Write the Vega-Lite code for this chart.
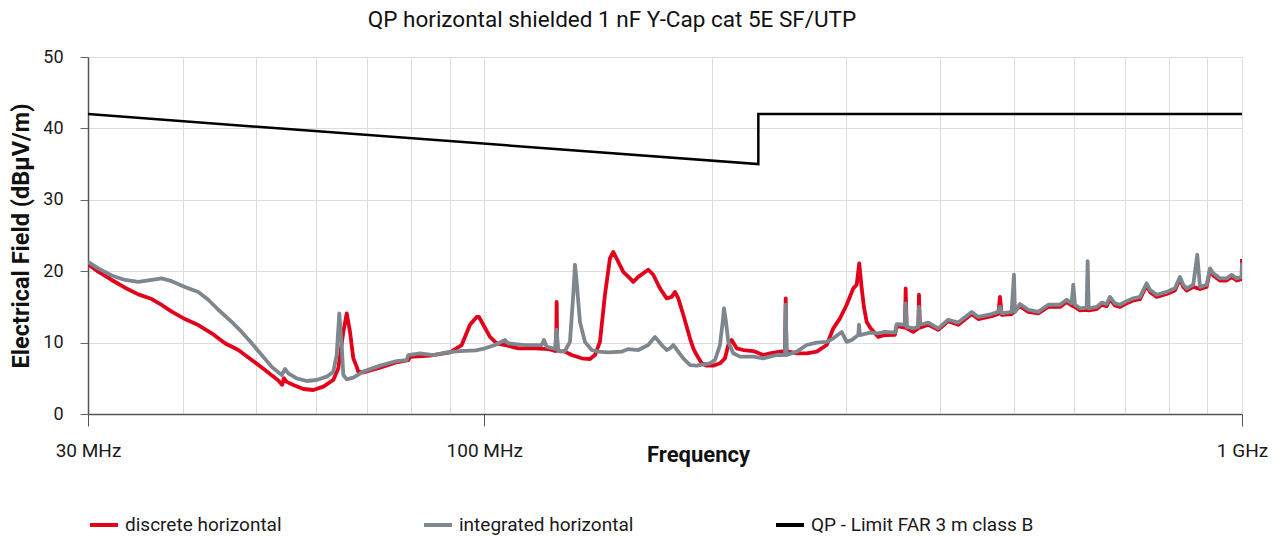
{
  "$schema": "https://vega.github.io/schema/vega-lite/v6.json",
  "width": 1154,
  "height": 357,
  "autosize": "none",
  "padding": {"left": 88, "top": 57, "right": 40, "bottom": 123},
  "background": "white",
  "config": {"font": "Roboto", "view": {"stroke": null}},
  "title": {"text": "QP horizontal shielded 1 nF Y-Cap cat 5E SF/UTP", "font": "Roboto", "fontSize": 22.5, "fontWeight": "normal", "color": "#111111", "anchor": "middle", "frame": "group", "baseline": "alphabetic", "offset": -1, "dx": -53},
  "datasets": {
    "d": [
      {"f":30.0,"v":20.97},{"f":30.95,"v":19.93},{"f":32.24,"v":18.77},{"f":33.57,"v":17.69},{"f":34.96,"v":16.76},{"f":36.41,"v":16.1},{"f":37.53,"v":15.27},{"f":38.69,"v":14.33},{"f":40.28,"v":13.3},{"f":41.94,"v":12.46},{"f":43.69,"v":11.3},{"f":45.49,"v":9.9},{"f":47.37,"v":8.96},{"f":49.34,"v":7.56},{"f":51.37,"v":6.16},{"f":53.49,"v":4.7},{"f":54.1,"v":4.1},{"f":54.42,"v":5.0},{"f":54.87,"v":4.5},{"f":55.99,"v":4.06},{"f":57.71,"v":3.5},{"f":59.49,"v":3.36},{"f":61.33,"v":3.83},{"f":63.22,"v":4.76},{"f":64.19,"v":6.4},{"f":65.17,"v":11.5},{"f":65.85,"v":14.1},{"f":66.51,"v":11.5},{"f":67.18,"v":7.8},{"f":67.88,"v":6.6},{"f":68.21,"v":5.93},{"f":69.25,"v":5.83},{"f":72.86,"v":6.5},{"f":76.65,"v":7.24},{"f":79.4,"v":7.56},{"f":79.81,"v":8.0},{"f":84.81,"v":8.17},{"f":90.12,"v":8.63},{"f":93.38,"v":9.66},{"f":95.76,"v":12.5},{"f":97.73,"v":13.6},{"f":98.42,"v":13.6},{"f":99.71,"v":12.5},{"f":101.76,"v":10.8},{"f":103.86,"v":9.9},{"f":106.51,"v":9.66},{"f":110.9,"v":9.2},{"f":116.67,"v":9.2},{"f":121.48,"v":9.1},{"f":123.98,"v":8.82},{"f":124.4,"v":8.9},{"f":124.62,"v":15.7},{"f":124.85,"v":8.9},{"f":125.23,"v":8.82},{"f":127.8,"v":8.73},{"f":130.43,"v":8.26},{"f":134.46,"v":7.8},{"f":137.89,"v":7.7},{"f":140.0,"v":8.26},{"f":142.14,"v":10.1},{"f":144.32,"v":16.7},{"f":146.53,"v":21.8},{"f":148.01,"v":22.7},{"f":150.28,"v":21.3},{"f":152.58,"v":19.9},{"f":155.72,"v":19.0},{"f":157.29,"v":18.5},{"f":159.7,"v":19.2},{"f":164.62,"v":20.2},{"f":167.14,"v":19.5},{"f":170.58,"v":17.6},{"f":174.09,"v":16.2},{"f":176.76,"v":16.4},{"f":178.54,"v":17.1},{"f":180.33,"v":16.2},{"f":183.1,"v":13.9},{"f":186.86,"v":10.6},{"f":188.75,"v":9.2},{"f":190.71,"v":8.26},{"f":193.63,"v":7.1},{"f":196.59,"v":6.77},{"f":200.58,"v":6.77},{"f":204.7,"v":7.1},{"f":207.83,"v":7.8},{"f":209.93,"v":9.66},{"f":212.1,"v":10.36},{"f":215.35,"v":9.2},{"f":219.71,"v":8.96},{"f":226.5,"v":8.82},{"f":233.48,"v":8.26},{"f":238.28,"v":8.5},{"f":245.64,"v":8.73},{"f":249.41,"v":8.82},{"f":249.94,"v":16.2},{"f":250.5,"v":8.8},{"f":258.44,"v":8.5},{"f":266.41,"v":8.5},{"f":274.63,"v":8.73},{"f":283.11,"v":9.66},{"f":288.84,"v":12.0},{"f":294.76,"v":13.4},{"f":300.82,"v":15.3},{"f":306.92,"v":17.6},{"f":310.1,"v":18.1},{"f":312.57,"v":21.1},{"f":314.85,"v":17.6},{"f":317.0,"v":15.0},{"f":319.68,"v":12.9},{"f":323.5,"v":12.0},{"f":331.15,"v":10.8},{"f":337.96,"v":11.06},{"f":348.38,"v":11.1},{"f":350.19,"v":12.3},{"f":359.12,"v":12.1},{"f":359.88,"v":17.6},{"f":360.98,"v":12.0},{"f":368.29,"v":11.5},{"f":373.94,"v":12.0},{"f":374.73,"v":16.7},{"f":375.87,"v":12.1},{"f":385.47,"v":12.5},{"f":397.37,"v":11.8},{"f":409.64,"v":13.0},{"f":422.29,"v":12.5},{"f":439.83,"v":14.0},{"f":448.73,"v":13.3},{"f":467.36,"v":13.7},{"f":476.83,"v":14.0},{"f":479.3,"v":16.4},{"f":481.78,"v":13.9},{"f":496.6,"v":14.0},{"f":509.29,"v":15.1},{"f":522.3,"v":14.3},{"f":538.42,"v":14.1},{"f":555.02,"v":15.0},{"f":575.15,"v":15.0},{"f":586.97,"v":15.7},{"f":595.96,"v":15.2},{"f":601.97,"v":15.0},{"f":611.18,"v":14.5},{"f":623.73,"v":14.6},{"f":627.53,"v":14.5},{"f":642.98,"v":14.7},{"f":652.82,"v":15.3},{"f":662.82,"v":15.1},{"f":669.5,"v":16.1},{"f":679.75,"v":15.2},{"f":690.17,"v":15.0},{"f":704.36,"v":15.5},{"f":718.62,"v":15.9},{"f":733.4,"v":16.1},{"f":748.48,"v":18.0},{"f":756.03,"v":17.1},{"f":771.58,"v":16.4},{"f":795.38,"v":16.8},{"f":815.69,"v":17.3},{"f":828.19,"v":18.9},{"f":836.55,"v":17.8},{"f":845.24,"v":17.3},{"f":862.37,"v":17.8},{"f":880.08,"v":17.5},{"f":898.19,"v":17.8},{"f":907.23,"v":20.1},{"f":916.38,"v":19.4},{"f":935.23,"v":18.7},{"f":954.46,"v":18.7},{"f":969.08,"v":19.2},{"f":983.9,"v":18.7},{"f":998.96,"v":18.9},{"f":1000,"v":21.7}
    ],
    "i": [
      {"f":30.0,"v":21.3},{"f":30.95,"v":20.4},{"f":32.24,"v":19.4},{"f":33.57,"v":18.77},{"f":34.96,"v":18.5},{"f":36.41,"v":18.77},{"f":37.53,"v":19.0},{"f":38.69,"v":18.6},{"f":40.28,"v":17.8},{"f":41.94,"v":17.1},{"f":43.24,"v":16.0},{"f":44.57,"v":14.6},{"f":46.43,"v":12.9},{"f":47.86,"v":11.5},{"f":49.34,"v":9.9},{"f":50.86,"v":8.26},{"f":52.43,"v":6.6},{"f":54.05,"v":5.46},{"f":54.59,"v":6.3},{"f":55.14,"v":5.7},{"f":56.57,"v":5.0},{"f":58.31,"v":4.62},{"f":60.11,"v":4.76},{"f":61.96,"v":5.23},{"f":63.22,"v":5.93},{"f":63.87,"v":8.26},{"f":64.38,"v":14.1},{"f":64.85,"v":9.66},{"f":65.17,"v":5.46},{"f":65.85,"v":4.85},{"f":67.18,"v":5.1},{"f":69.25,"v":5.93},{"f":72.86,"v":6.77},{"f":76.65,"v":7.42},{"f":79.01,"v":7.56},{"f":79.4,"v":8.26},{"f":82.27,"v":8.5},{"f":85.67,"v":8.26},{"f":89.22,"v":8.63},{"f":92.9,"v":8.82},{"f":97.5,"v":8.9},{"f":100.23,"v":9.2},{"f":103.32,"v":9.66},{"f":106.51,"v":10.36},{"f":107.58,"v":9.9},{"f":113.18,"v":9.66},{"f":119.07,"v":9.66},{"f":119.9,"v":10.36},{"f":120.89,"v":9.43},{"f":123.98,"v":9.1},{"f":124.62,"v":11.8},{"f":125.23,"v":8.82},{"f":127.8,"v":8.82},{"f":129.76,"v":10.1},{"f":131.07,"v":16.7},{"f":131.75,"v":20.9},{"f":132.43,"v":18.5},{"f":133.76,"v":12.9},{"f":135.81,"v":10.1},{"f":138.61,"v":8.96},{"f":141.41,"v":8.73},{"f":145.78,"v":8.63},{"f":151.79,"v":8.73},{"f":154.92,"v":9.1},{"f":159.7,"v":8.96},{"f":164.62,"v":9.66},{"f":168.01,"v":10.8},{"f":171.46,"v":9.66},{"f":174.09,"v":8.96},{"f":175.84,"v":9.2},{"f":177.62,"v":9.66},{"f":180.33,"v":8.73},{"f":183.1,"v":7.8},{"f":186.86,"v":6.86},{"f":190.71,"v":6.77},{"f":194.57,"v":6.96},{"f":198.58,"v":7.1},{"f":201.62,"v":7.56},{"f":204.7,"v":9.66},{"f":206.39,"v":12.9},{"f":207.2,"v":14.8},{"f":208.46,"v":12.9},{"f":209.93,"v":10.1},{"f":213.14,"v":8.5},{"f":217.52,"v":8.03},{"f":226.5,"v":8.03},{"f":233.48,"v":7.8},{"f":238.28,"v":8.03},{"f":243.19,"v":8.26},{"f":249.41,"v":8.26},{"f":249.94,"v":15.3},{"f":250.7,"v":8.26},{"f":258.44,"v":8.73},{"f":266.41,"v":9.66},{"f":274.63,"v":10.0},{"f":283.11,"v":10.1},{"f":288.84,"v":10.6},{"f":296.29,"v":11.5},{"f":300.82,"v":10.1},{"f":305.43,"v":10.36},{"f":311.62,"v":11.06},{"f":312.28,"v":12.5},{"f":313.23,"v":11.06},{"f":322.9,"v":11.4},{"f":331.15,"v":11.3},{"f":337.96,"v":11.5},{"f":348.38,"v":11.4},{"f":350.19,"v":12.6},{"f":359.12,"v":12.5},{"f":359.88,"v":15.5},{"f":360.98,"v":12.2},{"f":368.29,"v":12.0},{"f":373.94,"v":12.2},{"f":374.73,"v":15.0},{"f":375.87,"v":12.5},{"f":385.47,"v":12.8},{"f":397.37,"v":12.0},{"f":409.64,"v":13.2},{"f":422.29,"v":12.8},{"f":439.83,"v":14.3},{"f":448.73,"v":13.6},{"f":467.36,"v":14.0},{"f":476.83,"v":14.3},{"f":479.3,"v":15.0},{"f":481.78,"v":14.1},{"f":496.6,"v":14.3},{"f":500.09,"v":19.5},{"f":501.61,"v":14.3},{"f":509.29,"v":15.4},{"f":522.3,"v":14.6},{"f":538.42,"v":14.3},{"f":555.02,"v":15.3},{"f":575.15,"v":15.3},{"f":586.97,"v":16.0},{"f":595.96,"v":15.5},{"f":598.87,"v":18.1},{"f":601.97,"v":15.3},{"f":611.18,"v":14.8},{"f":623.73,"v":14.9},{"f":625.63,"v":21.4},{"f":627.53,"v":14.8},{"f":642.98,"v":15.0},{"f":652.82,"v":15.6},{"f":662.82,"v":15.4},{"f":669.5,"v":16.4},{"f":679.75,"v":15.5},{"f":690.17,"v":15.3},{"f":704.36,"v":15.8},{"f":718.62,"v":16.2},{"f":733.4,"v":16.4},{"f":748.48,"v":18.3},{"f":756.03,"v":17.4},{"f":771.58,"v":16.7},{"f":795.38,"v":17.1},{"f":815.69,"v":17.6},{"f":828.19,"v":19.2},{"f":836.55,"v":18.1},{"f":845.24,"v":17.6},{"f":862.37,"v":18.1},{"f":872.89,"v":22.3},{"f":880.08,"v":17.8},{"f":898.19,"v":18.1},{"f":907.23,"v":20.4},{"f":916.38,"v":19.7},{"f":935.23,"v":19.0},{"f":954.46,"v":19.0},{"f":969.08,"v":19.5},{"f":983.9,"v":19.0},{"f":998.96,"v":19.2},{"f":1000,"v":21.2}
    ],
    "l": [
      {"f":30,"v":42,"o":1},{"f":230,"v":35,"o":2},{"f":230,"v":42,"o":3},{"f":1000,"v":42,"o":4}
    ]
  },
  "encoding": {
    "x": {"field": "f", "type": "quantitative",
      "scale": {"type": "log", "domain": [30, 1000], "nice": false},
      "axis": {
        "values": [30,40,50,60,70,80,90,100,200,300,400,500,600,700,800,900,1000],
        "labelExpr": "datum.value == 30 ? '30 MHz' : datum.value == 100 ? '100 MHz' : datum.value == 1000 ? '1 GHz' : ''",
        "labelFlush": false, "labelOverlap": false, "labelFont": "Roboto", "labelFontSize": 19, "labelColor": "#1a1a1a", "labelPadding": 15,
        "tickSize": 12, "tickColor": "#555555", "tickOpacity": {"condition": {"test": "datum.value == 30 || datum.value == 100 || datum.value == 1000", "value": 1}, "value": 0},
        "domainColor": "#555555", "domainWidth": 1.5, "grid": true, "gridColor": "#dcdcdc", "gridWidth": 1,
        "title": "Frequency", "titleFont": "Roboto", "titleFontSize": 22, "titleFontWeight": "bold", "titleColor": "#111111",
        "titleX": 610, "titleY": 47, "titleBaseline": "alphabetic", "titleAlign": "center"
      }
    },
    "y": {"field": "v", "type": "quantitative",
      "scale": {"domain": [0, 50], "nice": false},
      "axis": {
        "values": [0,10,20,30,40,50], "labelFont": "Roboto", "labelFontSize": 18, "labelColor": "#1a1a1a", "labelPadding": 17,
        "tickSize": 8, "tickColor": "#666666", "domainColor": "#555555", "domainWidth": 1.5,
        "grid": true, "gridColor": "#dcdcdc", "gridWidth": 1,
        "title": "Electrical Field (dBµV/m)", "titleFont": "Roboto", "titleFontSize": 23.5, "titleFontWeight": "bold", "titleColor": "#111111", "titlePadding": 9
      }
    },
    "color": {"field": "s", "type": "nominal",
      "scale": {"domain": ["discrete horizontal", "integrated horizontal", "QP - Limit FAR 3 m class B"], "range": ["#e2001a", "#7d878d", "#000000"]},
      "legend": {"orient": "none", "legendX": 0, "legendY": 452, "direction": "horizontal", "title": null,
        "symbolType": "stroke", "symbolSize": 784, "symbolStrokeWidth": 4, "labelFont": "Roboto", "labelFontSize": 19, "labelColor": "#1a1a1a",
        "labelOffset": 5, "labelLimit": 400, "columnPadding": 134}
    }
  },
  "layer": [
    {"data": {"name": "d"}, "transform": [{"calculate": "'discrete horizontal'", "as": "s"}], "mark": {"type": "line", "strokeWidth": 3.8, "strokeJoin": "round", "clip": true}},
    {"data": {"name": "i"}, "transform": [{"calculate": "'integrated horizontal'", "as": "s"}], "mark": {"type": "line", "strokeWidth": 3.8, "strokeJoin": "round", "clip": true}},
    {"data": {"name": "l"}, "transform": [{"calculate": "'QP - Limit FAR 3 m class B'", "as": "s"}], "mark": {"type": "line", "strokeWidth": 2.5}, "encoding": {"order": {"field": "o"}}}
  ]
}
